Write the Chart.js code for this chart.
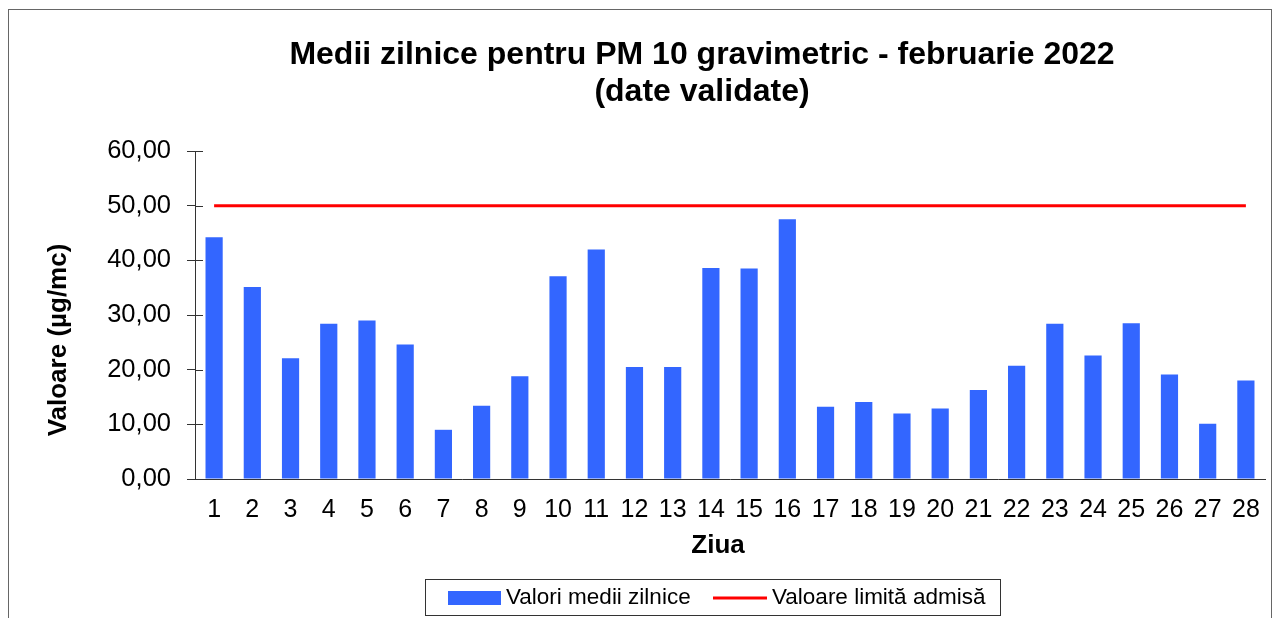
<!DOCTYPE html>
<html>
<head>
<meta charset="utf-8">
<script src="https://cdn.jsdelivr.net/npm/chart.js@4.4.1/dist/chart.umd.min.js"></script>
<style>
  html, body { margin: 0; padding: 0; background: #fff; }
  #wrap { width: 1280px; height: 618px; position: relative; }
</style>
</head>
<body>
<div id="wrap"><canvas id="c" width="1280" height="618"></canvas></div>
<script>
const days = ['1','2','3','4','5','6','7','8','9','10','11','12','13','14','15','16','17','18','19','20','21','22','23','24','25','26','27','28'];
const dailyMeans = [44.2, 35.1, 22.1, 28.4, 29.0, 24.6, 9.0, 13.4, 18.8, 37.1, 42.0, 20.5, 20.5, 38.6, 38.5, 47.5, 13.2, 14.1, 12.0, 12.9, 16.3, 20.7, 28.4, 22.6, 28.5, 19.1, 10.1, 18.0];
const limitValues = [50,50,50,50,50,50,50,50,50,50,50,50,50,50,50,50,50,50,50,50,50,50,50,50,50,50,50,50];
const seriesLabels = ['Valori medii zilnice', 'Valoare limită admisă'];
const titleLines = ['Medii zilnice pentru PM 10 gravimetric - februarie 2022', '(date validate)'];
const yAxisTitle = 'Valoare (µg/mc)';
const xAxisTitle = 'Ziua';

const FONT = '"Liberation Sans", Arial, Helvetica, sans-serif';

const decorPlugin = {
  id: 'decor',
  afterDraw(chart) {
    const ctx = chart.ctx;
    ctx.save();
    // outer frame
    ctx.strokeStyle = '#666';
    ctx.lineWidth = 1;
    ctx.strokeRect(8.5, 9.5, 1263, 700);

    // title
    ctx.fillStyle = '#000';
    ctx.textAlign = 'center';
    ctx.textBaseline = 'middle';
    ctx.font = 'bold 32px ' + FONT;
    ctx.fillText(titleLines[0], 702, 55);
    ctx.fillText(titleLines[1], 702, 92);

    // y axis title
    ctx.save();
    ctx.translate(59, 340);
    ctx.rotate(-Math.PI / 2);
    ctx.font = 'bold 26px ' + FONT;
    ctx.fillText(yAxisTitle, 0, 0);
    ctx.restore();

    // x axis title
    ctx.font = 'bold 26px ' + FONT;
    ctx.fillText(xAxisTitle, 718, 546);

    // inner half of y tick marks (ticks cross the axis)
    const ys = chart.scales.y;
    ctx.strokeStyle = '#333';
    ctx.lineWidth = 1;
    ys.ticks.forEach((t, i) => {
      const py = Math.round(ys.getPixelForTick(i)) + 0.5;
      ctx.beginPath();
      ctx.moveTo(ys.right, py);
      ctx.lineTo(ys.right + 8, py);
      ctx.stroke();
    });

    // legend
    ctx.strokeStyle = '#333';
    ctx.lineWidth = 1;
    ctx.strokeRect(425.5, 579.5, 575, 36);
    const ds = chart.data.datasets;
    ctx.fillStyle = ds[0].backgroundColor;
    ctx.fillRect(448, 591, 53, 14);
    ctx.strokeStyle = ds[1].borderColor;
    ctx.lineWidth = 3;
    ctx.beginPath();
    ctx.moveTo(713, 598);
    ctx.lineTo(767, 598);
    ctx.stroke();
    ctx.fillStyle = '#000';
    ctx.textAlign = 'left';
    ctx.font = '22.5px ' + FONT;
    ctx.fillText(ds[0].label, 506, 598);
    ctx.fillText(ds[1].label, 772, 598);
    ctx.restore();
  }
};

new Chart(document.getElementById('c'), {
  type: 'bar',
  data: {
    labels: days,
    datasets: [
      {
        type: 'bar',
        label: seriesLabels[0],
        data: dailyMeans,
        backgroundColor: '#3366FF',
        borderWidth: 0,
        categoryPercentage: 1,
        barPercentage: 0.45,
        order: 2
      },
      {
        type: 'line',
        label: seriesLabels[1],
        data: limitValues,
        borderColor: '#FF0000',
        backgroundColor: '#FF0000',
        borderWidth: 3,
        pointRadius: 0,
        fill: false,
        order: 1
      }
    ]
  },
  options: {
    responsive: false,
    animation: false,
    devicePixelRatio: 1,
    layout: { padding: { top: 151, right: 15, left: 0, bottom: 0 } },
    plugins: {
      legend: { display: false },
      title: { display: false },
      tooltip: { enabled: false }
    },
    scales: {
      x: {
        offset: true,
        grid: { display: false, drawTicks: false },
        border: { display: true, color: '#333', width: 1 },
        ticks: {
          color: '#000',
          font: { family: FONT, size: 25 },
          padding: 16,
          maxRotation: 0,
          autoSkip: false
        },
        afterFit(scale) { scale.height = 139; }
      },
      y: {
        min: 0,
        max: 60,
        grid: { drawOnChartArea: false, drawTicks: true, tickLength: 8, color: '#333' },
        border: { display: true, color: '#333', width: 1 },
        ticks: {
          stepSize: 10,
          color: '#000',
          font: { family: FONT, size: 25.5 },
          padding: 16,
          callback: (v) => v.toFixed(2).replace('.', ',')
        },
        afterFit(scale) { scale.width = 195; }
      }
    }
  },
  plugins: [decorPlugin]
});
</script>
</body>
</html>
